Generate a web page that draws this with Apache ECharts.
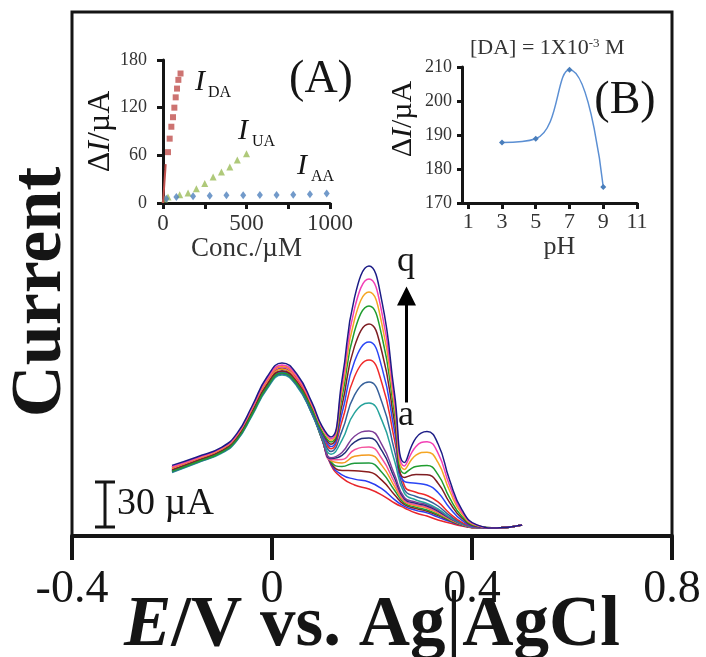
<!DOCTYPE html>
<html><head><meta charset="utf-8">
<script src="https://cdn.jsdelivr.net/npm/echarts@6/dist/echarts.min.js"></script>
<style>html,body{margin:0;padding:0;background:#fff}#c{width:706px;height:657px}</style>
</head><body><div id="c"></div>
<script>
// ---------- main DPV curves (E in V, current in µA) ----------
const potential = [-0.2,-0.15,-0.1,-0.07,-0.04,-0.01,0.02,0.05,0.08,0.1,0.118,0.14,0.165,0.194,0.22,0.245,0.265,0.288,0.31,0.332,0.355,0.38,0.41,0.45,0.5];
const curve_a = [46.0,51.7,58.3,67.2,84.9,104.0,113.3,104.5,83.2,64.6,47.3,38.7,34.0,31.3,27.3,22.0,18.7,15.3,13.3,10.7,8.7,6.7,5.3,5.3,7.3];
const curve_b = [45.1,51.0,57.7,66.4,83.9,102.7,112.0,103.3,82.6,64.4,47.9,40.8,37.9,36.0,31.4,24.3,19.7,17.1,15.4,12.6,9.8,7.1,5.4,5.3,7.3];
const curve_c = [44.7,50.7,57.3,66.0,83.3,102.0,111.3,102.8,82.3,64.6,48.7,43.7,43.5,42.6,37.1,27.5,20.9,18.3,16.5,13.6,10.3,7.3,5.4,5.3,7.3];
const curve_d = [43.5,49.7,56.3,64.8,81.7,100.0,109.3,101.1,81.3,64.3,49.5,46.3,48.5,48.6,42.3,30.5,21.9,19.2,17.3,14.3,10.7,7.4,5.5,5.3,7.3];
const curve_e = [44.7,50.7,57.3,66.0,83.3,102.0,111.3,102.9,82.7,65.2,50.2,48.7,53.1,54.0,46.9,33.1,22.8,20.2,18.5,15.2,11.2,7.6,5.5,5.3,7.3];
const curve_f = [45.4,51.3,58.0,66.8,84.4,103.3,112.6,104.2,83.6,65.9,50.8,51.0,57.5,59.3,51.5,35.7,23.7,20.9,19.2,15.9,11.6,7.8,5.5,5.3,7.3];
const curve_g = [43.9,50.0,56.7,65.2,82.3,100.7,110.0,101.8,82.2,65.4,51.6,53.7,62.6,65.3,56.7,38.7,24.7,21.8,20.0,16.6,11.9,7.9,5.6,5.3,7.3];
const curve_h = [43.1,49.3,56.0,64.4,81.2,99.3,108.6,100.7,81.6,65.3,52.2,55.7,66.5,70.0,60.8,41.0,25.5,22.6,20.8,17.3,12.3,8.0,5.6,5.3,7.3];
const curve_i = [42.3,48.7,55.3,63.6,80.1,98.0,107.3,99.7,81.3,65.9,54.5,63.9,82.1,88.6,76.9,50.1,28.4,24.0,21.7,18.1,12.6,8.2,5.6,5.3,7.3];
const curve_j = [42.7,49.0,55.7,64.0,80.7,98.7,108.0,100.4,82.1,66.9,56.3,70.1,93.9,102.6,89.0,56.9,30.8,26.3,24.0,20.0,13.7,8.6,5.7,5.3,7.3];
const curve_k = [45.9,51.7,58.3,67.2,84.9,104.0,113.3,105.4,85.8,69.2,58.1,76.5,106.2,117.3,101.7,64.1,33.4,29.2,27.0,22.7,15.2,9.1,5.8,5.3,7.3];
const curve_l = [43.5,49.7,56.3,64.8,81.7,100.0,109.3,101.9,83.7,68.7,59.6,81.8,116.3,129.3,112.1,70.0,36.2,35.2,34.0,29.0,18.8,10.4,6.0,5.3,7.3];
const curve_m = [43.9,50.0,56.7,65.2,82.3,100.7,110.0,102.6,84.5,69.5,61.2,87.1,126.4,141.3,122.5,75.9,39.0,41.0,40.8,35.2,22.4,11.8,6.3,5.3,7.3];
const curve_n = [43.1,49.3,56.0,64.4,81.2,99.3,108.6,101.5,84.1,69.8,62.7,92.4,136.5,153.3,132.8,81.8,41.7,46.4,47.0,40.9,25.6,13.0,6.6,5.3,7.3];
const curve_o = [45.9,51.7,58.3,67.2,84.9,104.0,113.3,105.8,87.1,71.7,63.8,96.5,144.3,162.6,140.9,86.3,44.4,53.9,55.9,49.0,30.3,14.7,6.9,5.3,7.3];
const curve_p = [46.3,52.0,58.7,67.6,85.5,104.7,114.0,106.5,87.8,72.4,64.9,100.3,151.6,171.3,148.4,90.6,46.7,59.7,62.8,55.3,33.9,16.0,7.2,5.3,7.3];
const curve_q = [47.1,52.7,59.3,68.4,86.5,106.0,115.3,107.8,88.9,73.2,66.0,104.1,158.9,180.0,156.0,94.9,49.0,65.4,69.6,61.5,37.5,17.4,7.4,5.3,7.3];
const curveNames = ['a','b','c','d','e','f','g','h','i','j','k','l','m','n','o','p','q'];
const curveColors = ['#e8262c','#2a3cf0','#8a1c1c','#1e9a3c','#f39a1e','#f5529c','#23307a','#7d3c98','#27a39c','#36609a','#f02a2a','#2a46f5','#7e1e22','#1f9d2e','#f5a623','#f23fb5','#1c1c86'];
const currentAxisMin = 0, currentAxisMax = 349.3;
const potentialTicks = [-0.4, 0.8, 0.4]; // min, max, interval
const scaleBar = [-0.334, 6, 36];          // E, from, to (30 µA)
const arrowLine = [0.269, 89, 160];        // E, from, to

// ---------- inset A ----------
const daLowConc = [0,2,4,6,8,10,12,14,16];
const daLowCurrent = [0,6,12,18,24,30,36,42,49];
const daConc = [30,40,50,60,68,76,84,92,105];
const daCurrent = [64,81,96,108,120,133,144,155,163];
const uaConc = [10,30,100,150,200,250,300,350,400,445,500];
const uaCurrent = [5,7.6,10.5,12.6,18,24.4,32.8,39,45.4,54,62];
const aaConc = [20,80,180,280,380,480,580,680,780,880,980];
const aaCurrent = [5.5,7.5,8.4,9.2,9.7,9.7,10,10,10.5,11,12];

// ---------- inset B ----------
const phValues = [3,5,7,9];
const phCurrent = [187.8,188.9,209.2,174.7];
const phTicks = [1,3,5,7,9,11];

const serif = 'Liberation Serif';
const ink = '#151515';

const chart = echarts.init(document.getElementById('c'));

const mainCurves = [curve_a,curve_b,curve_c,curve_d,curve_e,curve_f,curve_g,curve_h,curve_i,curve_j,curve_k,curve_l,curve_m,curve_n,curve_o,curve_p,curve_q];
const series = mainCurves.map((arr, i) => ({
  type: 'line', name: curveNames[i], xAxisIndex: 0, yAxisIndex: 0,
  data: potential.map((e, j) => [e, arr[j]]),
  smooth: 0.5, showSymbol: false, silent: true,
  lineStyle: { width: 1.5, color: curveColors[i] }
}));

series.push({
  type: 'custom', xAxisIndex: 0, yAxisIndex: 0, silent: true,
  encode: { x: 0, y: [1, 2] },
  data: [scaleBar],
  renderItem: (params, api) => {
    const p0 = api.coord([api.value(0), api.value(1)]);
    const p1 = api.coord([api.value(0), api.value(2)]);
    const st = { stroke: ink, lineWidth: 3 };
    return { type: 'group', children: [
      { type: 'line', shape: { x1: p0[0], y1: p0[1], x2: p1[0], y2: p1[1] }, style: st },
      { type: 'line', shape: { x1: p0[0]-10, y1: p0[1], x2: p0[0]+10, y2: p0[1] }, style: st },
      { type: 'line', shape: { x1: p1[0]-10, y1: p1[1], x2: p1[0]+10, y2: p1[1] }, style: st },
      { type: 'text', style: { text: '30 µA', x: p0[0]+12, y: (p0[1]+p1[1])/2, fontFamily: serif, fontSize: 38, fill: ink, verticalAlign: 'middle', align: 'left' } }
    ]};
  }
});

series.push({
  type: 'line', xAxisIndex: 0, yAxisIndex: 0, data: [], silent: true,
  markLine: {
    silent: true, symbol: ['none', 'triangle'], symbolSize: 19,
    lineStyle: { color: '#000', width: 3, type: 'solid' }, label: { show: false },
    data: [[{ coord: [arrowLine[0], arrowLine[1]] }, { coord: [arrowLine[0], arrowLine[2]] }]]
  }
});

// inset A series
series.push({ type: 'line', xAxisIndex: 1, yAxisIndex: 1, data: daLowConc.map((c,i)=>[c, daLowCurrent[i]]), showSymbol: false, lineStyle: { color: '#c0504d', width: 2 }, silent: true });
series.push({ type: 'scatter', xAxisIndex: 1, yAxisIndex: 1, data: daConc.map((c,i)=>[c, daCurrent[i]]), symbol: 'rect', symbolSize: 6, itemStyle: { color: '#c0504d' }, silent: true });
series.push({ type: 'scatter', xAxisIndex: 1, yAxisIndex: 1, data: uaConc.map((c,i)=>[c, uaCurrent[i]]), symbol: 'triangle', symbolSize: 7, itemStyle: { color: '#9bbb59' }, silent: true });
series.push({ type: 'scatter', xAxisIndex: 1, yAxisIndex: 1, data: aaConc.map((c,i)=>[c, aaCurrent[i]]), symbol: 'diamond', symbolSize: [6, 8], itemStyle: { color: '#4f81bd' }, silent: true });

// inset B series
series.push({ type: 'line', xAxisIndex: 2, yAxisIndex: 2, data: phValues.map((p,i)=>[p, phCurrent[i]]), smooth: 0.5, symbol: 'diamond', symbolSize: 6, showSymbol: true, itemStyle: { color: '#4a7ebb' }, lineStyle: { color: '#5b8fd3', width: 1.5 }, silent: true });

const nm = (size) => ({
  fontFamily: serif, fontSize: size, color: ink,
  rich: {
    n: { fontFamily: serif, fontSize: size, color: ink },
    i: { fontFamily: serif, fontSize: size, color: ink, fontStyle: 'italic' }
  }
});

const option = {
  animation: false,
  backgroundColor: '#fff',
  grid: [
    { left: 72, top: 12, width: 600, height: 524, show: true, borderColor: ink, borderWidth: 3, backgroundColor: 'transparent', outerBoundsMode: 'none', containLabel: false },
    { left: 163, top: 60, width: 167, height: 143, outerBoundsMode: 'none', containLabel: false },
    { left: 462, top: 67, width: 175, height: 136, outerBoundsMode: 'none', containLabel: false }
  ],
  xAxis: [
    { gridIndex: 0, type: 'value', min: potentialTicks[0], max: potentialTicks[1], interval: potentialTicks[2],
      axisLine: { lineStyle: { color: ink, width: 4 } },
      axisTick: { inside: false, length: 24, lineStyle: { color: ink, width: 4 } },
      axisLabel: { fontFamily: serif, fontSize: 46, color: ink, margin: 31, formatter: v => (v === 0 ? '0' : v.toFixed(1)) },
      splitLine: { show: false },
      name: '{i|E}{b|/V vs. Ag}{p||}{b|AgCl}', nameLocation: 'middle', nameGap: 49, nameMoveOverlap: false,
      nameTextStyle: { rich: {
        i: { fontFamily: serif, fontSize: 71, fontWeight: 'bold', fontStyle: 'italic', color: ink },
        b: { fontFamily: serif, fontSize: 71, fontWeight: 'bold', color: ink },
        p: { fontFamily: serif, fontSize: 84, fontWeight: 'normal', color: ink }
      } }
    },
    { gridIndex: 1, type: 'value', min: 0, max: 1000, interval: 250,
      axisLine: { lineStyle: { color: ink, width: 3 } },
      axisTick: { inside: false, length: 6, lineStyle: { color: ink, width: 3 } },
      axisLabel: { fontFamily: serif, fontSize: 23, color: '#333', margin: 9, formatter: v => (v % 500 === 0 ? String(v) : '') },
      splitLine: { show: false },
      name: 'Conc./µM', nameLocation: 'middle', nameGap: 31,
      nameTextStyle: { fontFamily: serif, fontSize: 27, color: '#333' }
    },
    { gridIndex: 2, type: 'value', min: 0.63, max: 11,
      axisLine: { lineStyle: { color: ink, width: 3 } },
      axisTick: { inside: false, length: 6, lineStyle: { color: ink, width: 3 }, customValues: phTicks },
      axisLabel: { fontFamily: serif, fontSize: 22, color: '#333', margin: 8, customValues: phTicks },
      splitLine: { show: false },
      name: 'pH', nameLocation: 'middle', nameGap: 26,
      nameTextStyle: { fontFamily: serif, fontSize: 26, color: '#333', padding: [0, 0, 0, 20] }
    }
  ],
  yAxis: [
    { gridIndex: 0, type: 'value', min: currentAxisMin, max: currentAxisMax,
      axisLine: { show: false }, axisTick: { show: false }, axisLabel: { show: false }, splitLine: { show: false },
      name: 'Current', nameLocation: 'middle', nameGap: -5,
      nameTextStyle: { fontFamily: serif, fontSize: 72, fontWeight: 'bold', color: ink, padding: [0, 36, 0, 0] }
    },
    { gridIndex: 1, type: 'value', min: 0, max: 180, interval: 60,
      axisLine: { lineStyle: { color: ink, width: 3 } },
      axisTick: { inside: false, length: 6, lineStyle: { color: ink, width: 3 } },
      axisLabel: { fontFamily: serif, fontSize: 18, color: '#333', margin: 16 },
      splitLine: { show: false },
      name: '{n|Δ}{i|I}{n|/µA}', nameLocation: 'middle', nameGap: 38,
      nameTextStyle: nm(32)
    },
    { gridIndex: 2, type: 'value', min: 170, max: 210, interval: 10,
      axisLine: { lineStyle: { color: ink, width: 3 } },
      axisTick: { inside: false, length: 5, lineStyle: { color: ink, width: 3 } },
      axisLabel: { fontFamily: serif, fontSize: 18, color: '#333', margin: 10 },
      splitLine: { show: false },
      name: '{n|Δ}{i|I}{n|/µA}', nameLocation: 'middle', nameGap: 44,
      nameTextStyle: Object.assign(nm(30), { padding: [0, 0, 0, 32] })
    }
  ],
  graphic: [
    { type: 'text', x: 321, y: 80, style: { text: '(A)', fontFamily: serif, fontSize: 46, fill: ink, align: 'center', verticalAlign: 'middle' } },
    { type: 'text', x: 625, y: 101, style: { text: '(B)', fontFamily: serif, fontSize: 46, fill: ink, align: 'center', verticalAlign: 'middle' } },
    { type: 'text', x: 195, y: 82, style: { text: 'I', fontFamily: serif, fontStyle: 'italic', fontSize: 30, fill: ink, align: 'left', verticalAlign: 'middle' } },
    { type: 'text', x: 208, y: 93, style: { text: 'DA', fontFamily: serif, fontSize: 16, fill: ink, align: 'left', verticalAlign: 'middle' } },
    { type: 'text', x: 238, y: 131, style: { text: 'I', fontFamily: serif, fontStyle: 'italic', fontSize: 30, fill: ink, align: 'left', verticalAlign: 'middle' } },
    { type: 'text', x: 252, y: 142, style: { text: 'UA', fontFamily: serif, fontSize: 16, fill: ink, align: 'left', verticalAlign: 'middle' } },
    { type: 'text', x: 297, y: 166, style: { text: 'I', fontFamily: serif, fontStyle: 'italic', fontSize: 30, fill: ink, align: 'left', verticalAlign: 'middle' } },
    { type: 'text', x: 311, y: 177, style: { text: 'AA', fontFamily: serif, fontSize: 16, fill: ink, align: 'left', verticalAlign: 'middle' } },
    { type: 'text', x: 470, y: 48, style: { text: '[DA] = 1X10{s|-3} M', fontFamily: serif, fontSize: 22, fill: '#333', align: 'left', verticalAlign: 'middle',
        rich: { s: { fontFamily: serif, fontSize: 13, fill: '#333', verticalAlign: 'top' } } } },
    { type: 'text', x: 406, y: 262, style: { text: 'q', fontFamily: serif, fontSize: 36, fill: ink, align: 'center', verticalAlign: 'middle' } },
    { type: 'text', x: 406, y: 416, style: { text: 'a', fontFamily: serif, fontSize: 36, fill: ink, align: 'center', verticalAlign: 'middle' } }
  ],
  series: series
};
chart.setOption(option);
</script>
</body></html>
